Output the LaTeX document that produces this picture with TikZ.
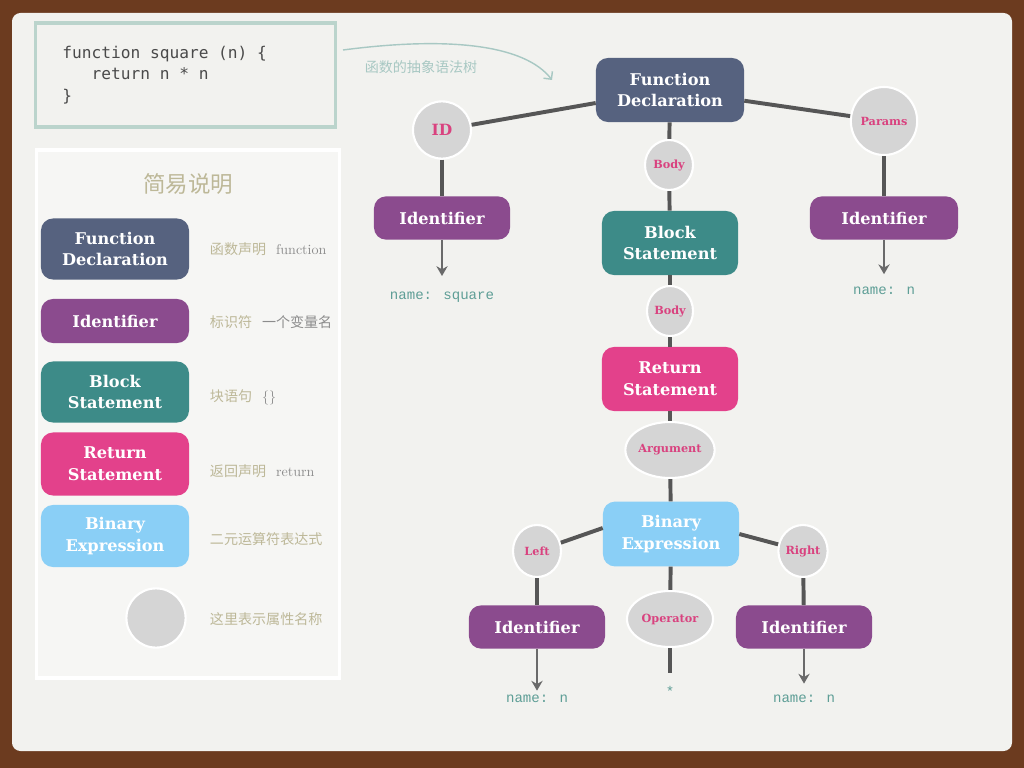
\documentclass[tikz,border=0pt]{standalone}
\definecolor{FrameBrown}{HTML}{6C3B1F}
\definecolor{PaperWhite}{HTML}{F2F2EF}
\definecolor{LegendFill}{HTML}{F6F6F4}
\definecolor{FuncBlue}{HTML}{56627F}
\definecolor{IdentPurple}{HTML}{8B4B8E}
\definecolor{BlockTeal}{HTML}{3D8B88}
\definecolor{ReturnPink}{HTML}{E3418B}
\definecolor{BinaryBlue}{HTML}{8ACFF6}
\definecolor{PropGray}{HTML}{D5D5D5}
\definecolor{PropPink}{HTML}{D9427F}
\definecolor{EdgeGray}{HTML}{565656}
\definecolor{ArrowGray}{HTML}{6A6A6A}
\definecolor{NameTeal}{HTML}{5E9E96}
\definecolor{CodeBorder}{HTML}{BBD4CC}
\definecolor{CodeText}{HTML}{4A4A4A}
\definecolor{LegendTan}{HTML}{BDB898}
\definecolor{LegendGray}{HTML}{8C8C8C}
\definecolor{CurveTeal}{HTML}{A8C8C3}
\usepackage{fontspec}
\usepackage{tikz}
\usetikzlibrary{shapes,arrows.meta,positioning}
\newfontfamily\slabfont{DejaVu Serif}
\newfontfamily\cjkfont{Noto Sans CJK SC}
\newfontfamily\codefont{DejaVu Sans Mono}[WordSpace={1,0,0}]
\newfontfamily\namefont{Liberation Mono}[WordSpace={1,0,0}]
\newcommand\codegap{\hphantom{x}}
\tikzset{
    % Base node style
    basenode/.style={
        rounded corners=0.3cm,
        inner sep=2pt,
        align=center,
        text=white,
        font=\slabfont\bfseries\fontsize{11.5}{15.5}\selectfont
    },
    % Function declaration
    funcnode/.style={
        basenode,
        fill=FuncBlue,
        minimum width=3.7cm,
        minimum height=1.6cm
    },
    % Identifier
    identnode/.style={
        basenode,
        fill=IdentPurple,
        minimum width=3.4cm,
        minimum height=1.08cm
    },
    % Block statement
    blocknode/.style={
        basenode,
        fill=BlockTeal,
        minimum width=3.4cm,
        minimum height=1.6cm
    },
    % Return statement
    returnnode/.style={
        basenode,
        fill=ReturnPink,
        minimum width=3.4cm,
        minimum height=1.6cm
    },
    % Binary expression
    binarynode/.style={
        basenode,
        fill=BinaryBlue,
        minimum width=3.4cm,
        minimum height=1.62cm
    },
    % Property name circle
    propnode/.style={
        ellipse,
        fill=PropGray,
        draw=white,
        line width=1.5pt,
        inner sep=0pt,
        text=PropPink,
        font=\slabfont\bfseries\fontsize{8}{9}\selectfont
    },
    % Legend description
    legendtext/.style={
        anchor=west,
        text=LegendTan,
        font=\cjkfont\fontsize{10}{12}\selectfont
    },
    % Value text
    nametext/.style={
        inner sep=1pt,
        text=NameTeal,
        font=\namefont\fontsize{10}{12}\selectfont
    },
    % Tree edge
    treeline/.style={
        line width=2.8pt,
        draw=EdgeGray
    },
    % Arrow to value
    valarrow/.style={
        -{Stealth[length=7pt,width=8pt]},
        line width=1.4pt,
        draw=ArrowGray
    }
}
\begin{document}
\begin{tikzpicture}[x=0.025cm, y=-0.025cm]
    % paper and frame
    \fill[FrameBrown] (0,0) rectangle (1024,768);
    \fill[PaperWhite, rounded corners=6pt] (12,13) rectangle (1012,751);
    \useasboundingbox (0,0) rectangle (1024,768);

    % source code
    \node[draw=CodeBorder, line width=2.4pt, minimum width=7.5cm, minimum height=2.6cm,
          text width=6.15cm, inner xsep=0.675cm, align=left, text=CodeText,
          font=\codefont\fontsize{11.5}{15.5}\selectfont] (code) at (185.5,75)
        {function\codegap square\codegap (n)\codegap \{\\\phantom{ret}return\codegap n\codegap *\codegap n\\\}};
    \coordinate (cstart) at (343,50);
    \coordinate (cend) at (552,80);
    \draw[CurveTeal, line width=1pt, -{Straight Barb[length=4pt]}] (cstart) .. controls (450,36) and (525,45) .. (cend);
    \node[text=CurveTeal, font=\cjkfont\fontsize{10}{12}\selectfont] (curvelabel) at (421,67) {函数的抽象语法树};

    % legend
    \node[fill=LegendFill, draw=white, line width=2.5pt, minimum width=7.575cm, minimum height=13.2cm] (legend) at (188,414) {};
    \node[text=LegendTan, font=\cjkfont\fontsize{16}{18}\selectfont] (legendtitle) at (188,184) {简易说明};
    \node[funcnode, minimum width=3.7cm, minimum height=1.525cm] (lfunc) at (115,249) {Function\\Declaration};
    \node[identnode, minimum width=3.7cm, minimum height=1.1cm] (lident) at (115,321) {Identifier};
    \node[blocknode, minimum width=3.7cm, minimum height=1.525cm] (lblock) at (115,392) {Block\\Statement};
    \node[returnnode, minimum width=3.7cm, minimum height=1.575cm] (lreturn) at (115,464) {Return\\Statement};
    \node[binarynode, minimum width=3.7cm, minimum height=1.55cm] (lbinary) at (115,536) {Binary\\Expression};
    \node[propnode, minimum size=1.48cm] (lprop) at (156,618) {};
    \node[legendtext] (dfunc) at (205,249) {函数声明\hspace{7pt}{\rmfamily\color{LegendGray}function}};
    \node[legendtext] (dident) at (205,322) {标识符\hspace{7pt}{\color{LegendGray}一个变量名}};
    \node[legendtext] (dblock) at (205,397) {块语句\hspace{7pt}{\rmfamily\color{LegendGray}\{\}}};
    \node[legendtext] (dreturn) at (205,471) {返回声明\hspace{7pt}{\rmfamily\color{LegendGray}return}};
    \node[legendtext] (dbinary) at (205,539) {二元运算符表达式};
    \node[legendtext] (dprop) at (205,619) {这里表示属性名称};

    % syntax tree
    \node[funcnode] (fd) at (670,90) {Function\\Declaration};
    \node[propnode, minimum width=1.45cm, minimum height=1.43cm, font=\slabfont\bfseries\fontsize{11}{12}\selectfont] (id) at (442,130) {ID};
    \node[propnode, minimum width=1.2cm, minimum height=1.25cm] (body1) at (669,165) {Body};
    \node[propnode, minimum width=1.65cm, minimum height=1.7cm] (params) at (884,121) {Params};
    \node[identnode] (identl) at (442,218) {Identifier};
    \node[blocknode] (block) at (670,243) {Block\\Statement};
    \node[identnode, minimum width=3.7cm] (identr) at (884,218) {Identifier};
    \node[nametext] (namesq) at (442,297) {name: square};
    \node[nametext] (namen1) at (884,291) {name: n};
    \node[propnode, minimum width=1.15cm, minimum height=1.25cm] (body2) at (670,311) {Body};
    \node[returnnode] (ret) at (670,379) {Return\\Statement};
    \node[propnode, minimum width=2.1cm, minimum height=1.4cm] (arg) at (670,450) {Argument};
    \node[binarynode] (bin) at (671,534) {Binary\\Expression};
    \node[propnode, minimum width=1.2cm, minimum height=1.3cm] (left) at (537,551) {Left};
    \node[propnode, minimum width=1.2cm, minimum height=1.3cm] (right) at (803,551) {Right};
    \node[propnode, minimum width=2.15cm, minimum height=1.4cm] (op) at (670,619) {Operator};
    \node[identnode] (identbl) at (537,627) {Identifier};
    \node[identnode] (identbr) at (804,627) {Identifier};
    \node[nametext] (namen2) at (537,699) {name: n};
    \node[nametext] (star) at (670,691) {*};
    \node[nametext] (namen3) at (804,699) {name: n};

    \draw[treeline] (fd) -- (id);
    \draw[treeline] (fd) -- (params);
    \draw[treeline] (fd) -- (body1);
    \draw[treeline] (body1) -- (block);
    \draw[treeline] (id) -- (identl);
    \draw[treeline] (params) -- (identr);
    \draw[treeline] (block) -- (body2);
    \draw[treeline] (body2) -- (ret);
    \draw[treeline] (ret) -- (arg);
    \draw[treeline] (arg) -- (bin);
    \draw[treeline] (bin.175) -- (left);
    \draw[treeline] (bin.east) -- (right);
    \draw[treeline] (bin) -- (op);
    \draw[treeline] (left) -- (identbl);
    \draw[treeline] (right) -- (identbr);
    \draw[treeline, shorten >=8pt] (op) -- (star);
    \draw[valarrow, shorten >=10pt] (identl) -- (namesq);
    \draw[valarrow, shorten >=8pt] (identr) -- (namen1);
    \draw[valarrow, shorten >=2pt] (identbl) -- (namen2);
    \draw[valarrow, shorten >=7pt] (identbr) -- (namen3);
\end{tikzpicture}
\end{document}
